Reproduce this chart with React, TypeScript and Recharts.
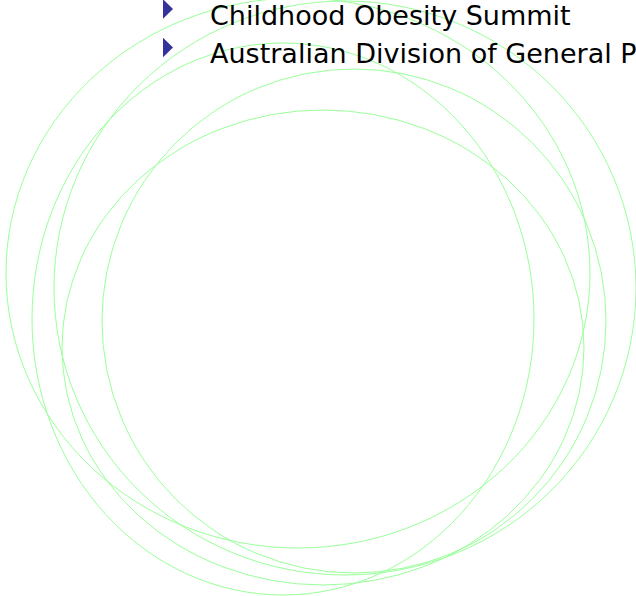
import React from "react";
import { ScatterChart, Scatter, XAxis, YAxis, ReferenceArea } from "recharts";

// Ellipses (slide units = pixels of the 636x596 picture)
const ellipseNames = ["E1", "E2", "E3", "E4", "E5"];
const ellipseCx = [298, 283, 345, 323, 354];
const ellipseCy = [273, 319, 288, 347.5, 321];
const ellipseRx = [292, 251, 291, 261, 252];
const ellipseRy = [275, 276, 287, 237.5, 252];

// Bullet list
const bulletLabels = ["Childhood Obesity Summit", "Australian Division of General P"];
const bulletX = [168, 168];
const bulletY = [9, 47.5];

const bulletData = bulletLabels.map((label, i) => ({ x: bulletX[i], y: bulletY[i], label }));

const STROKE = "#99FF99";
const BULLET = "#333399";

const EllipseShape = (props: any) => {
  const { x, y, width, height } = props;
  const w = Math.abs(width);
  const h = Math.abs(height);
  const left = width < 0 ? x + width : x;
  const top = height < 0 ? y + height : y;
  return (
    <ellipse
      cx={left + w / 2}
      cy={top + h / 2}
      rx={w / 2}
      ry={h / 2}
      fill="none"
      stroke={STROKE}
      strokeWidth={1}
    />
  );
};

const BulletShape = (props: any) => {
  const { cx, cy, payload } = props;
  return (
    <g>
      <polygon
        points={`${cx - 5},${cy - 9.8} ${cx + 5},${cy} ${cx - 5},${cy + 9.8}`}
        fill={BULLET}
      />
      <text
        x={cx + 42}
        y={cy + 15.5}
        fontFamily="'DejaVu Sans', Verdana, sans-serif"
        fontSize={27}
        fill="#000000"
      >
        {payload.label}
      </text>
    </g>
  );
};

export default function App() {
  return (
    <div style={{ position: "absolute", left: 0, top: 0, width: 636, height: 596, background: "#ffffff" }}>
      <ScatterChart width={636} height={596} margin={{ top: 0, right: 0, bottom: 0, left: 0 }}>
        <XAxis type="number" dataKey="x" domain={[0, 636]} hide allowDataOverflow />
        <YAxis type="number" dataKey="y" domain={[0, 596]} reversed hide allowDataOverflow />
        {ellipseNames.map((name, i) => (
          <ReferenceArea
            key={name}
            x1={ellipseCx[i] - ellipseRx[i]}
            x2={ellipseCx[i] + ellipseRx[i]}
            y1={ellipseCy[i] - ellipseRy[i]}
            y2={ellipseCy[i] + ellipseRy[i]}
            ifOverflow="visible"
            shape={EllipseShape}
          />
        ))}
        <Scatter data={bulletData} dataKey="y" shape={BulletShape} isAnimationActive={false} />
      </ScatterChart>
    </div>
  );
}
